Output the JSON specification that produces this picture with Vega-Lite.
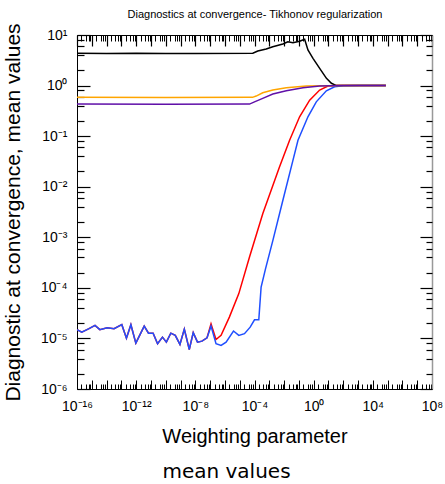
{
  "$schema": "https://vega.github.io/schema/vega-lite/v6.json",
  "width": 355,
  "height": 354,
  "autosize": {"type": "none"},
  "padding": {"left": 77, "top": 35, "right": 13, "bottom": 95},
  "title": {"text": "mean values", "orient": "bottom", "anchor": "middle", "frame": "group", "dx": -28, "font": "DejaVu Sans", "fontSize": 20, "fontWeight": "normal", "color": "black", "offset": 16},
  "config": {
    "view": {"stroke": null},
    "axis": {"grid": false, "tickColor": "black", "domainColor": "black", "labelColor": "black", "titleColor": "black", "labelFont": "Liberation Sans", "titleFont": "Liberation Sans", "titleFontWeight": "normal", "tickWidth": 1, "domainWidth": 1}
  },
  "resolve": {"axis": {"x": "independent", "y": "independent"}},
  "layer": [
    {
      "data": {"values": [
        {"s": "s1", "x": 1e-16, "y": 1.49e-5}, {"s": "s1", "x": 2.1e-16, "y": 1.33e-5}, {"s": "s1", "x": 6.5e-16, "y": 1.56e-5}, {"s": "s1", "x": 1.65e-15, "y": 1.81e-5}, {"s": "s1", "x": 3.5e-15, "y": 1.49e-5}, {"s": "s1", "x": 1.1e-14, "y": 1.63e-5}, {"s": "s1", "x": 3.2e-14, "y": 1.56e-5}, {"s": "s1", "x": 1.07e-13, "y": 1.87e-5}, {"s": "s1", "x": 2.2e-13, "y": 1.01e-5}, {"s": "s1", "x": 4.4e-13, "y": 1.87e-5}, {"s": "s1", "x": 9.5e-13, "y": 8.07e-6}, {"s": "s1", "x": 3.5e-12, "y": 1.75e-5}, {"s": "s1", "x": 6.8e-12, "y": 1.27e-5}, {"s": "s1", "x": 1.4e-11, "y": 1.27e-5}, {"s": "s1", "x": 2.8e-11, "y": 7.85e-6}, {"s": "s1", "x": 6e-11, "y": 1.06e-5}, {"s": "s1", "x": 1.1e-10, "y": 8.45e-6}, {"s": "s1", "x": 2.2e-10, "y": 1.27e-5}, {"s": "s1", "x": 4.4e-10, "y": 1.15e-5}, {"s": "s1", "x": 9.1e-10, "y": 7.6e-6}, {"s": "s1", "x": 1.8e-9, "y": 1.53e-5}, {"s": "s1", "x": 3.9e-9, "y": 6.05e-6}, {"s": "s1", "x": 7.2e-9, "y": 1.3e-5}, {"s": "s1", "x": 1.4e-8, "y": 8.45e-6}, {"s": "s1", "x": 2.8e-8, "y": 8.85e-6}, {"s": "s1", "x": 6.2e-8, "y": 1.03e-5},
        {"s": "s1", "x": 1.15e-7, "y": 1.95e-5}, {"s": "s1", "x": 2.5e-7, "y": 9.5e-6}, {"s": "s1", "x": 5.5e-7, "y": 1.15e-5}, {"s": "s1", "x": 2.0e-6, "y": 2.64e-5}, {"s": "s1", "x": 8.7e-6, "y": 7.7e-5}, {"s": "s1", "x": 4.6e-5, "y": 4.07e-4}, {"s": "s1", "x": 3.66e-4, "y": 2.94e-3}, {"s": "s1", "x": 4.95e-3, "y": 0.0247}, {"s": "s1", "x": 0.0236, "y": 0.083}, {"s": "s1", "x": 0.112, "y": 0.241}, {"s": "s1", "x": 0.536, "y": 0.516}, {"s": "s1", "x": 2.55, "y": 0.815}, {"s": "s1", "x": 9.3, "y": 0.977}, {"s": "s1", "x": 34.6, "y": 1.0}, {"s": "s1", "x": 7.6e4, "y": 1.0},
        {"s": "s2", "x": 1e-16, "y": 1.49e-5}, {"s": "s2", "x": 2.1e-16, "y": 1.33e-5}, {"s": "s2", "x": 6.5e-16, "y": 1.56e-5}, {"s": "s2", "x": 1.65e-15, "y": 1.81e-5}, {"s": "s2", "x": 3.5e-15, "y": 1.49e-5}, {"s": "s2", "x": 1.1e-14, "y": 1.63e-5}, {"s": "s2", "x": 3.2e-14, "y": 1.56e-5}, {"s": "s2", "x": 1.07e-13, "y": 1.87e-5}, {"s": "s2", "x": 2.2e-13, "y": 1.01e-5}, {"s": "s2", "x": 4.4e-13, "y": 1.87e-5}, {"s": "s2", "x": 9.5e-13, "y": 8.07e-6}, {"s": "s2", "x": 3.5e-12, "y": 1.75e-5}, {"s": "s2", "x": 6.8e-12, "y": 1.27e-5}, {"s": "s2", "x": 1.4e-11, "y": 1.27e-5}, {"s": "s2", "x": 2.8e-11, "y": 7.85e-6}, {"s": "s2", "x": 6e-11, "y": 1.06e-5}, {"s": "s2", "x": 1.1e-10, "y": 8.45e-6}, {"s": "s2", "x": 2.2e-10, "y": 1.27e-5}, {"s": "s2", "x": 4.4e-10, "y": 1.15e-5}, {"s": "s2", "x": 9.1e-10, "y": 7.6e-6}, {"s": "s2", "x": 1.8e-9, "y": 1.53e-5}, {"s": "s2", "x": 3.9e-9, "y": 6.05e-6}, {"s": "s2", "x": 7.2e-9, "y": 1.3e-5}, {"s": "s2", "x": 1.4e-8, "y": 8.45e-6}, {"s": "s2", "x": 2.8e-8, "y": 8.85e-6}, {"s": "s2", "x": 6.2e-8, "y": 1.03e-5},
        {"s": "s2", "x": 1.15e-7, "y": 1.75e-5}, {"s": "s2", "x": 2.5e-7, "y": 7.85e-6}, {"s": "s2", "x": 5.5e-7, "y": 7.26e-6}, {"s": "s2", "x": 1.2e-6, "y": 8.45e-6}, {"s": "s2", "x": 3.8e-6, "y": 1.4e-5}, {"s": "s2", "x": 8.7e-6, "y": 1.15e-5}, {"s": "s2", "x": 2.1e-5, "y": 1.24e-5}, {"s": "s2", "x": 5.1e-5, "y": 1.67e-5}, {"s": "s2", "x": 1e-4, "y": 2.34e-5}, {"s": "s2", "x": 1.95e-4, "y": 2.34e-5}, {"s": "s2", "x": 2.8e-4, "y": 1.04e-4}, {"s": "s2", "x": 5.6e-4, "y": 2.4e-4}, {"s": "s2", "x": 1.75e-3, "y": 8.7e-4}, {"s": "s2", "x": 8.3e-3, "y": 5.4e-3}, {"s": "s2", "x": 0.04, "y": 0.0335}, {"s": "s2", "x": 0.087, "y": 0.083}, {"s": "s2", "x": 0.41, "y": 0.241}, {"s": "s2", "x": 1.5, "y": 0.477}, {"s": "s2", "x": 7.2, "y": 0.79}, {"s": "s2", "x": 26, "y": 0.946}, {"s": "s2", "x": 97, "y": 0.99}, {"s": "s2", "x": 1300, "y": 1.0}, {"s": "s2", "x": 7.6e4, "y": 1.0},
        {"s": "s3", "x": 1e-16, "y": 4.35}, {"s": "s3", "x": 1e-14, "y": 4.3}, {"s": "s3", "x": 1e-12, "y": 4.38}, {"s": "s3", "x": 1e-10, "y": 4.3}, {"s": "s3", "x": 1e-8, "y": 4.32}, {"s": "s3", "x": 7.7e-5, "y": 4.35}, {"s": "s3", "x": 1.67e-4, "y": 4.82}, {"s": "s3", "x": 6.2e-4, "y": 5.28}, {"s": "s3", "x": 1.73e-3, "y": 5.87}, {"s": "s3", "x": 8.3e-3, "y": 6.64}, {"s": "s3", "x": 0.018, "y": 7.36}, {"s": "s3", "x": 0.04, "y": 7.05}, {"s": "s3", "x": 0.112, "y": 7.5}, {"s": "s3", "x": 0.245, "y": 8.2}, {"s": "s3", "x": 0.41, "y": 5.05}, {"s": "s3", "x": 0.9, "y": 3.46}, {"s": "s3", "x": 2.55, "y": 2.19}, {"s": "s3", "x": 7.3, "y": 1.39}, {"s": "s3", "x": 15.8, "y": 1.11}, {"s": "s3", "x": 34.6, "y": 1.0}, {"s": "s3", "x": 7.6e4, "y": 1.0},
        {"s": "s4", "x": 1e-16, "y": 0.585}, {"s": "s4", "x": 1e-10, "y": 0.58}, {"s": "s4", "x": 7.3e-5, "y": 0.585}, {"s": "s4", "x": 1.3e-4, "y": 0.62}, {"s": "s4", "x": 3.6e-4, "y": 0.72}, {"s": "s4", "x": 1.73e-3, "y": 0.815}, {"s": "s4", "x": 0.0141, "y": 0.904}, {"s": "s4", "x": 0.32, "y": 0.977}, {"s": "s4", "x": 7.3, "y": 0.99}, {"s": "s4", "x": 100, "y": 1.0}, {"s": "s4", "x": 7.6e4, "y": 1.0},
        {"s": "s5", "x": 1e-16, "y": 0.43}, {"s": "s5", "x": 1e-10, "y": 0.425}, {"s": "s5", "x": 4.6e-5, "y": 0.43}, {"s": "s5", "x": 1e-4, "y": 0.477}, {"s": "s5", "x": 3.6e-4, "y": 0.558}, {"s": "s5", "x": 1.73e-3, "y": 0.68}, {"s": "s5", "x": 0.0141, "y": 0.79}, {"s": "s5", "x": 0.19, "y": 0.904}, {"s": "s5", "x": 2.55, "y": 0.977}, {"s": "s5", "x": 15.8, "y": 0.99}, {"s": "s5", "x": 100, "y": 1.0}, {"s": "s5", "x": 7.6e4, "y": 1.0}
      ]},
      "mark": {"type": "line", "strokeWidth": 1.5, "clip": true},
      "encoding": {
        "x": {"field": "x", "type": "quantitative", "scale": {"type": "log", "domain": [1e-16, 1e8]},
          "axis": {"orient": "top", "values": [1e-16, 1e8], "ticks": false, "labels": false, "domain": true, "domainColor": "black", "domainWidth": 1,
            "title": "Diagnostics at convergence- Tikhonov regularization", "titleFontSize": 11, "titlePadding": 16}},
        "y": {"field": "y", "type": "quantitative", "scale": {"type": "log", "domain": [1e-6, 10]},
          "axis": {"orient": "right", "values": [1e-6, 10], "ticks": false, "labels": false, "domain": true, "domainColor": "#999999", "domainWidth": 1.5, "title": null}},
        "color": {"field": "s", "type": "nominal", "scale": {"domain": ["s1", "s2", "s3", "s4", "s5"], "range": ["#ff0000", "#1f4fff", "#000000", "#ffa500", "#6010a8"]}, "legend": null}
      }
    },
    {
      "data": {"values": []},
      "mark": {"type": "point", "opacity": 0},
      "encoding": {
        "x": {"field": "x", "type": "quantitative", "scale": {"type": "log", "domain": [1e-16, 1e8]},
          "axis": {"orient": "bottom", "values": [1e-16, 1e-12, 1e-8, 1e-4, 1, 1e4, 1e8], "ticks": false, "domain": true, "labelFontSize": 14, "labelPadding": 10, "labelFlush": false, "labelOverlap": false,
            "labelExpr": "datum.value < 1e-14 ? '10⁻¹⁶' : datum.value < 1e-10 ? '10⁻¹²' : datum.value < 1e-6 ? '10⁻⁸' : datum.value < 1e-2 ? '10⁻⁴' : datum.value < 100 ? '10⁰' : datum.value < 1e6 ? '10⁴' : '10⁸'",
            "title": "Weighting parameter", "titleFontSize": 20, "titlePadding": 13}},
        "y": {"field": "y", "type": "quantitative", "scale": {"type": "log", "domain": [1e-6, 10]},
          "axis": {"orient": "left", "values": [1e-6, 1e-5, 1e-4, 1e-3, 1e-2, 0.1, 1, 10], "ticks": false, "domain": true, "labelFontSize": 14, "labelPadding": 10, "labelFlush": false, "labelOverlap": false,
            "labelExpr": "datum.value < 3e-6 ? '10⁻⁶' : datum.value < 3e-5 ? '10⁻⁵' : datum.value < 3e-4 ? '10⁻⁴' : datum.value < 3e-3 ? '10⁻³' : datum.value < 3e-2 ? '10⁻²' : datum.value < 0.3 ? '10⁻¹' : datum.value < 3 ? '10⁰' : '10¹'",
            "title": "Diagnostic at convergence, mean values", "titleFontSize": 21, "titlePadding": 17}}
      }
    },
    {
      "data": {"values": []},
      "mark": {"type": "point", "opacity": 0},
      "encoding": {
        "x": {"field": "x", "type": "quantitative", "scale": {"type": "log", "domain": [1e-16, 1e8]},
          "axis": {"orient": "bottom", "values": [1e-16, 1e-15, 1e-14, 1e-13, 1e-12, 1e-11, 1e-10, 1e-9, 1e-8, 1e-7, 1e-6, 1e-5, 1e-4, 1e-3, 1e-2, 0.1, 1, 10, 100, 1e3, 1e4, 1e5, 1e6, 1e7, 1e8], "labels": false, "domain": false, "tickSize": -9, "tickColor": "black", "tickWidth": 1, "title": null}},
        "y": {"field": "y", "type": "quantitative", "scale": {"type": "log", "domain": [1e-6, 10]},
          "axis": {"orient": "left", "values": [1e-6, 1e-5, 1e-4, 1e-3, 1e-2, 0.1, 1, 10], "labels": false, "domain": false, "tickSize": -13, "tickColor": "black", "tickWidth": 1.2, "title": null}}
      }
    },
    {
      "data": {"values": []},
      "mark": {"type": "point", "opacity": 0},
      "encoding": {
        "x": {"field": "x", "type": "quantitative", "scale": {"type": "log", "domain": [1e-16, 1e8]},
          "axis": {"orient": "bottom", "values": [2e-16, 4e-16, 6e-16, 8e-16, 2e-15, 4e-15, 6e-15, 8e-15, 2e-14, 4e-14, 6e-14, 8e-14, 2e-13, 4e-13, 6e-13, 8e-13, 2e-12, 4e-12, 6e-12, 8e-12, 2e-11, 4e-11, 6e-11, 8e-11, 2e-10, 4e-10, 6e-10, 8e-10, 2e-9, 4e-9, 6e-9, 8e-9, 2e-8, 4e-8, 6e-8, 8e-8, 2e-7, 4e-7, 6e-7, 8e-7, 2e-6, 4e-6, 6e-6, 8e-6, 2e-5, 4e-5, 6e-5, 8e-5, 2e-4, 4e-4, 6e-4, 8e-4, 2e-3, 4e-3, 6e-3, 8e-3, 0.02, 0.04, 0.06, 0.08, 0.2, 0.4, 0.6, 0.8, 2, 4, 6, 8, 20, 40, 60, 80, 200, 400, 600, 800, 2e3, 4e3, 6e3, 8e3, 2e4, 4e4, 6e4, 8e4, 2e5, 4e5, 6e5, 8e5, 2e6, 4e6, 6e6, 8e6, 2e7, 4e7, 6e7, 8e7], "labels": false, "domain": false, "tickSize": -5, "tickColor": "black", "tickWidth": 1, "title": null}},
        "y": {"field": "y", "type": "quantitative", "scale": {"type": "log", "domain": [1e-6, 10]},
          "axis": {"orient": "left", "values": [2e-6, 4e-6, 6e-6, 8e-6, 2e-5, 4e-5, 6e-5, 8e-5, 2e-4, 4e-4, 6e-4, 8e-4, 2e-3, 4e-3, 6e-3, 8e-3, 0.02, 0.04, 0.06, 0.08, 0.2, 0.4, 0.6, 0.8, 2, 4, 6, 8], "labels": false, "domain": false, "tickSize": -7, "tickColor": "black", "tickWidth": 1.2, "title": null}}
      }
    },
    {
      "data": {"values": []},
      "mark": {"type": "point", "opacity": 0},
      "encoding": {
        "x": {"field": "x", "type": "quantitative", "scale": {"type": "log", "domain": [1e-16, 1e8]},
          "axis": {"orient": "top", "values": [1e-16, 1e-15, 1e-14, 1e-13, 1e-12, 1e-11, 1e-10, 1e-9, 1e-8, 1e-7, 1e-6, 1e-5, 1e-4, 1e-3, 1e-2, 0.1, 1, 10, 100, 1e3, 1e4, 1e5, 1e6, 1e7, 1e8], "labels": false, "domain": false, "tickSize": -11, "tickColor": "black", "tickWidth": 1.2, "title": null}},
        "y": {"field": "y", "type": "quantitative", "scale": {"type": "log", "domain": [1e-6, 10]},
          "axis": {"orient": "right", "values": [1e-6, 1e-5, 1e-4, 1e-3, 1e-2, 0.1, 1, 10], "labels": false, "domain": false, "tickSize": -12, "tickColor": "black", "tickWidth": 1.2, "title": null}}
      }
    },
    {
      "data": {"values": []},
      "mark": {"type": "point", "opacity": 0},
      "encoding": {
        "x": {"field": "x", "type": "quantitative", "scale": {"type": "log", "domain": [1e-16, 1e8]},
          "axis": {"orient": "top", "values": [2e-16, 4e-16, 6e-16, 8e-16, 2e-15, 4e-15, 6e-15, 8e-15, 2e-14, 4e-14, 6e-14, 8e-14, 2e-13, 4e-13, 6e-13, 8e-13, 2e-12, 4e-12, 6e-12, 8e-12, 2e-11, 4e-11, 6e-11, 8e-11, 2e-10, 4e-10, 6e-10, 8e-10, 2e-9, 4e-9, 6e-9, 8e-9, 2e-8, 4e-8, 6e-8, 8e-8, 2e-7, 4e-7, 6e-7, 8e-7, 2e-6, 4e-6, 6e-6, 8e-6, 2e-5, 4e-5, 6e-5, 8e-5, 2e-4, 4e-4, 6e-4, 8e-4, 2e-3, 4e-3, 6e-3, 8e-3, 0.02, 0.04, 0.06, 0.08, 0.2, 0.4, 0.6, 0.8, 2, 4, 6, 8, 20, 40, 60, 80, 200, 400, 600, 800, 2e3, 4e3, 6e3, 8e3, 2e4, 4e4, 6e4, 8e4, 2e5, 4e5, 6e5, 8e5, 2e6, 4e6, 6e6, 8e6, 2e7, 4e7, 6e7, 8e7], "labels": false, "domain": false, "tickSize": -6, "tickColor": "black", "tickWidth": 1, "title": null}},
        "y": {"field": "y", "type": "quantitative", "scale": {"type": "log", "domain": [1e-6, 10]},
          "axis": {"orient": "right", "values": [2e-6, 4e-6, 6e-6, 8e-6, 2e-5, 4e-5, 6e-5, 8e-5, 2e-4, 4e-4, 6e-4, 8e-4, 2e-3, 4e-3, 6e-3, 8e-3, 0.02, 0.04, 0.06, 0.08, 0.2, 0.4, 0.6, 0.8, 2, 4, 6, 8], "labels": false, "domain": false, "tickSize": -6, "tickColor": "black", "tickWidth": 1.2, "title": null}}
      }
    }
  ]
}
